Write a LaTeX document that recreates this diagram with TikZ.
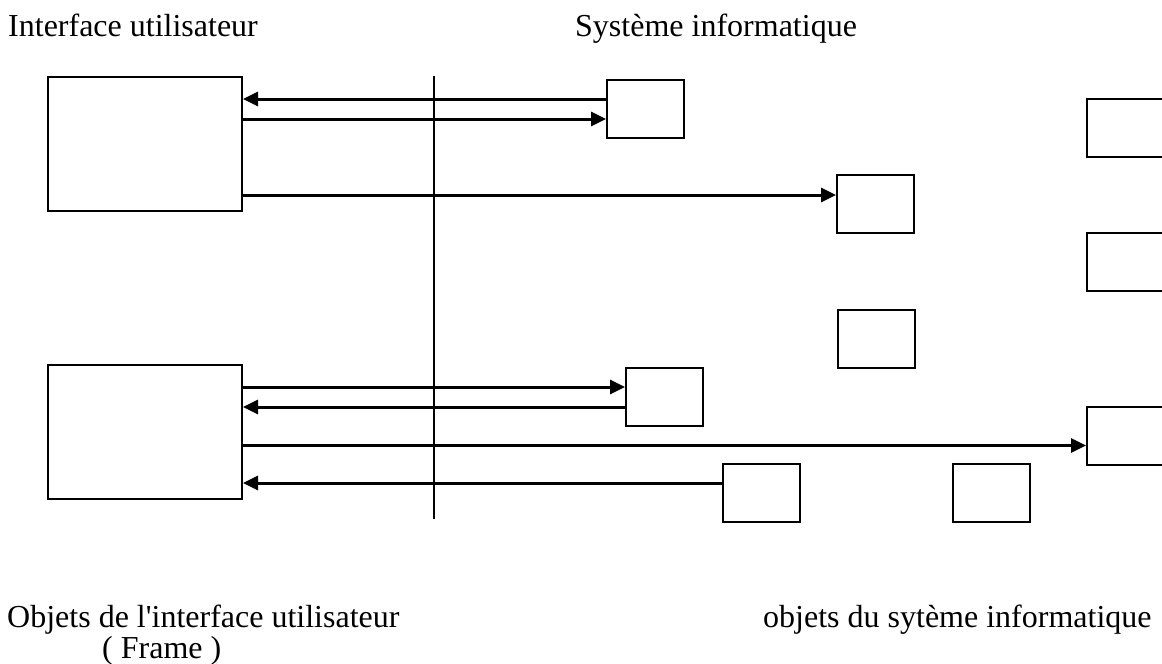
\documentclass[tikz,border=0pt]{standalone}
\usepackage{fontspec}
\setmainfont{Liberation Serif}[Ligatures=TeXOff]
\usetikzlibrary{positioning, arrows.meta}

\begin{document}
\begin{tikzpicture}[x=1pt, y=-1pt,
    frame/.style={draw, line width=2pt, rectangle, minimum width=194pt, minimum height=134pt, inner sep=0pt},
    obj/.style={draw, line width=2pt, rectangle, minimum width=77pt, minimum height=58pt, inner sep=0pt},
    label/.style={anchor=base west, inner sep=0pt, font=\fontsize{32}{31}\selectfont},
    flow/.style={-{Triangle[length=15pt, width=14pt]}, line width=3pt}]
    \clip (0, 0) rectangle (1162, 664);
    \node (ui) [label] at (8, 36) {Interface utilisateur};
    \node (sys) [label] at (575, 36) {Système informatique};
    \node (uiobj) [label] at (7, 627) {Objets de l'interface utilisateur};
    \node (frame) [label] at (102, 658) {( Frame )};
    \node (sysobj) [label] at (763, 627) {objets du sytème informatique};
    \node (frameA) [frame] at (145, 144) {};
    \node (frameB) [frame] at (145, 432) {};
    \node (sysA) [obj] at (645.5, 109) {};
    \node (sysB) [obj] at (875.5, 204) {};
    \node (sysC) [obj] at (876, 339) {};
    \node (sysD) [obj] at (664.5, 397) {};
    \node (sysE) [obj] at (761, 493) {};
    \node (sysF) [obj] at (991.5, 493) {};
    \node (sysG) [obj] at (1125.5, 128) {};
    \node (sysH) [obj] at (1125.5, 262) {};
    \node (sysI) [obj] at (1125.5, 435.5) {};
    \draw [line width=1.5pt] (434, 76) -- (434, 519);
    \draw [flow] ([yshift=10pt]sysA.west) -- ([yshift=10pt]sysA.west -| frameA.east);
    \draw [flow] ([yshift=-10pt]sysA.west -| frameA.east) -- ([yshift=-10pt]sysA.west);
    \draw [flow] ([yshift=9pt]sysB.west -| frameA.east) -- ([yshift=9pt]sysB.west);
    \draw [flow] ([yshift=10pt]sysD.west -| frameB.east) -- ([yshift=10pt]sysD.west);
    \draw [flow] ([yshift=-10pt]sysD.west) -- ([yshift=-10pt]sysD.west -| frameB.east);
    \draw [flow] ([yshift=-10pt]sysI.west -| frameB.east) -- ([yshift=-10pt]sysI.west);
    \draw [flow] ([yshift=10pt]sysE.west) -- ([yshift=10pt]sysE.west -| frameB.east);
\end{tikzpicture}
\end{document}
